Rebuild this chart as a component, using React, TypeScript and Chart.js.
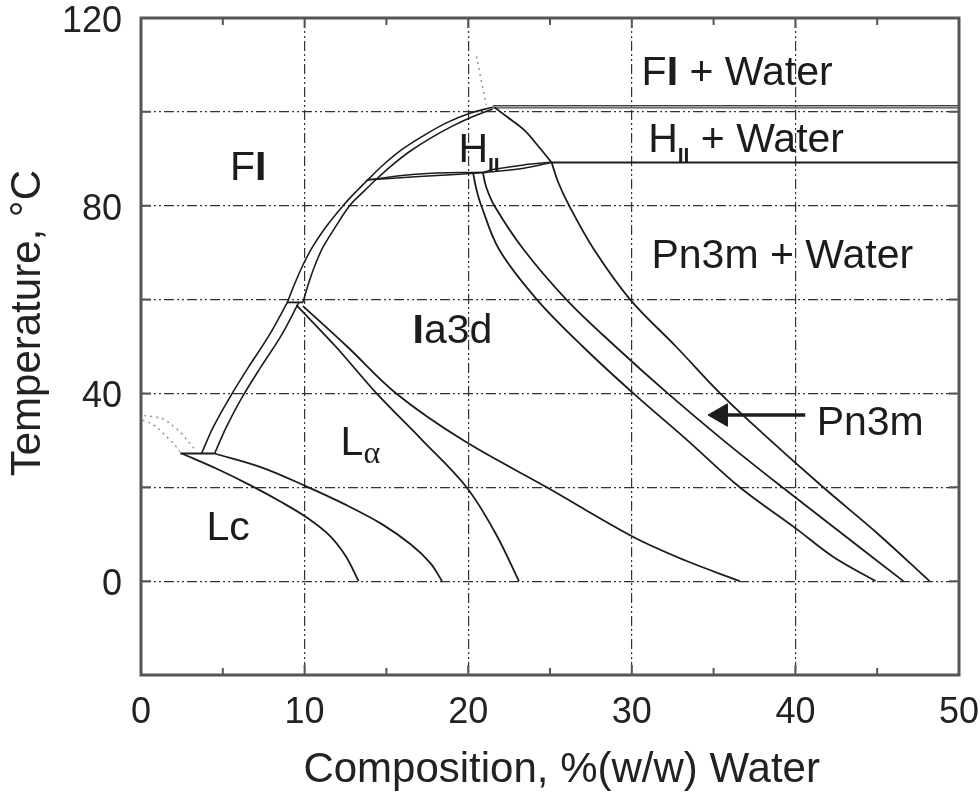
import React, { useEffect, useRef } from 'react';
import { Chart, registerables } from 'chart.js';

Chart.register(...registerables);

type Pt = [number, number];

// Axes
const X_MIN = 0;
const X_MAX = 50;
const X_STEP = 10;
const Y_MIN = -20;
const Y_MAX = 120;
const Y_STEP = 20;
const Y_LABELED = [0, 40, 80, 120];

// Phase boundaries: [composition % (w/w) water, temperature °C]
const FI_OUTER: Pt[] = [[8.95, 59.4], [9.35, 63], [9.85, 67], [10.45, 71], [11.2, 75], [12.35, 80], [13.2, 83.2], [14.0, 86.0], [14.9, 89.0], [16.0, 92.1], [17.3, 95.0], [18.7, 97.7], [20.1, 99.7], [21.5, 101.0]];
const FI_INNER: Pt[] = [[9.9, 59.4], [10.2, 63], [10.6, 67], [11.1, 71], [11.8, 75], [12.75, 80], [13.6, 83], [14.4, 85.7], [15.3, 88.5], [16.4, 91.5], [17.6, 94.2], [19.0, 96.9], [20.3, 99.0], [21.5, 100.6]];
const FI_LOW_LEFT: Pt[] = [[3.7, 27.2], [4.4, 32.7], [5.35, 38.7], [6.55, 45.5], [7.8, 52.2], [8.95, 59.4]];
const FI_LOW_RIGHT: Pt[] = [[4.5, 27.2], [5.2, 32.7], [6.1, 38.7], [7.3, 45.5], [8.55, 52.2], [9.65, 59.4]];
const TRIPLE_UPPER: Pt[] = [[8.9, 59.4], [9.9, 59.4]];
const TRIPLE_LOWER: Pt[] = [[2.4, 27.2], [4.5, 27.2]];
const LC_A: Pt[] = [[2.5, 27.2], [4.6, 24], [6.7, 20.4], [8.6, 16.8], [10.2, 13.4], [11.5, 9.8], [12.5, 5.4], [13.3, 0]];
const LC_B: Pt[] = [[4.5, 27.2], [7.4, 24.2], [10.1, 20.2], [12.5, 16.3], [14.7, 12.2], [16.5, 7.8], [17.7, 3.8], [18.4, 0]];
const LA_C: Pt[] = [[9.5, 58.8], [11.9, 50], [14.4, 40], [17.2, 30], [19.9, 20], [21.7, 10], [23.1, 0]];
const LA_D: Pt[] = [[9.9, 58.6], [12.6, 50], [15.6, 40], [19.7, 30], [24.8, 20], [30.1, 9.4], [33.2, 4.5], [36.6, 0]];
const IA_E: Pt[] = [[20.3, 87], [20.5, 83.5], [20.8, 80], [21.9, 70.6], [24.2, 60], [27.0, 50], [30.1, 40], [33.4, 30], [36.6, 20], [40, 11.3], [42.3, 5.2], [44.9, 0]];
const IA_F: Pt[] = [[20.9, 87], [21.1, 84], [21.6, 80], [23.4, 70.6], [26.0, 60], [29.0, 50], [32.2, 40], [35.6, 30], [39.2, 20], [42.9, 10], [46.6, 0]];
const PN_G: Pt[] = [[25.1, 89.2], [25.5, 85], [26.2, 79.8], [27.7, 70.6], [29.9, 60], [32.7, 50], [35.4, 40], [38.0, 31.5], [41.7, 20], [45.0, 10.2], [48.2, 0]];
const LENS1_U: Pt[] = [[13.8, 85.5], [17, 86.75], [20.9, 87.15]];
const LENS1_L: Pt[] = [[13.8, 85.5], [17, 86.2], [20.9, 87.0]];
const LENS2_U: Pt[] = [[20.9, 87.1], [21.5, 87.7], [23.4, 88.7], [25.1, 89.25]];
const LENS2_L: Pt[] = [[20.9, 87.0], [23.4, 88.0], [25.1, 89.2]];
const HII_RIGHT: Pt[] = [[21.6, 101.0], [22.35, 99], [23.4, 96.2], [24.4, 92.2], [25.1, 89.2]];
const FI_WATER_A: Pt[] = [[21.5, 101.3], [50, 101.3]];
const FI_WATER_B: Pt[] = [[21.5, 100.85], [50, 100.85]];
const HII_WATER: Pt[] = [[25.1, 89.2], [50, 89.2]];
const DOT_TOP: Pt[] = [[20.5, 111.8], [21.1, 101.5]];
const DOT_UPPER: Pt[] = [[0.2, 35.3], [1.26, 34.7], [1.77, 33.6], [2.38, 31.8], [2.9, 29.7], [3.4, 27.6]];
const DOT_LOWER: Pt[] = [[0.1, 34.3], [0.55, 33.7], [0.96, 32.8], [1.47, 31.1], [1.97, 29.4], [2.38, 27.6]];
const ARROW_SHAFT: Pt[] = [[40.6, 35.4], [35.6, 35.4]];
const ARROW_HEAD: Pt[] = [[35.45, 35.4]];

// Region labels: anchor [x, y] (left, baseline) and text parts
const LABELS: { at: Pt; parts: [string, string][] }[] = [
  { at: [5.44, 85.5], parts: [['F', 'n'], ['I', 'b']] },
  { at: [30.6, 105.8], parts: [['F', 'n'], ['I', 'b'], [' + Water', 'n']] },
  { at: [31.0, 91.5], parts: [['H', 'n'], ['II', 's'], [' + Water', 'n']] },
  { at: [19.4, 89.3], parts: [['H', 'n'], ['II', 's']] },
  { at: [31.2, 66.7], parts: [['Pn3m + Water', 'n']] },
  { at: [16.6, 50.7], parts: [['I', 'b'], ['a3d', 'n']] },
  { at: [12.2, 26.9], parts: [['L', 'n'], ['α', 'g']] },
  { at: [4.0, 8.7], parts: [['Lc', 'n']] },
  { at: [41.3, 31.1], parts: [['Pn3m', 'n']] },
];

const X_TITLE = 'Composition, %(w/w) Water';
const Y_TITLE = 'Temperature, °C';

const FONT = "'Liberation Sans', Arial, Helvetica, sans-serif";
const INK = '#1c1c1c';

const decorPlugin = {
  id: 'decor',
  afterDatasetsDraw(chart: any) {
    const { ctx } = chart;
    const xs = chart.scales.x;
    const ys = chart.scales.y;
    ctx.save();
    ctx.fillStyle = INK;
    ctx.textAlign = 'left';
    ctx.textBaseline = 'alphabetic';
    for (const lab of LABELS) {
      let px = xs.getPixelForValue(lab.at[0]);
      const py = ys.getPixelForValue(lab.at[1]);
      for (const [text, kind] of lab.parts) {
        let font = `41px ${FONT}`;
        let dy = 0;
        if (kind === 'b') font = `bold 41px ${FONT}`;
        else if (kind === 's') {
          font = `bold 21px ${FONT}`;
          dy = 10;
        } else if (kind === 'g') {
          font = `32px 'Liberation Serif', 'DejaVu Serif', serif`;
          dy = 8;
        }
        ctx.font = font;
        ctx.fillText(text, px, py + dy);
        px += ctx.measureText(text).width;
      }
    }
    ctx.restore();
  },
  afterDraw(chart: any) {
    const { ctx, chartArea: a } = chart;
    const xs = chart.scales.x;
    const ys = chart.scales.y;
    ctx.save();
    ctx.strokeStyle = '#555';
    ctx.lineWidth = 2;
    ctx.beginPath();
    for (let v = X_MIN; v <= X_MAX; v += X_STEP / 2) {
      const p = xs.getPixelForValue(v);
      const len = v % X_STEP === 0 ? 10 : 7;
      ctx.moveTo(p, a.bottom);
      ctx.lineTo(p, a.bottom - len);
      ctx.moveTo(p, a.top);
      ctx.lineTo(p, a.top + len);
    }
    for (let v = Y_MIN; v <= Y_MAX; v += Y_STEP) {
      const p = ys.getPixelForValue(v);
      ctx.moveTo(a.left, p);
      ctx.lineTo(a.left + 10, p);
      ctx.moveTo(a.right, p);
      ctx.lineTo(a.right - 10, p);
    }
    ctx.stroke();
    ctx.lineWidth = 3;
    ctx.strokeStyle = '#555';
    ctx.strokeRect(a.left, a.top, a.right - a.left, a.bottom - a.top);
    ctx.restore();
  },
};

const seg = (pts: Pt[], o: any = {}) => ({
  data: pts.map(([x, y]) => ({ x, y })),
  showLine: true,
  borderColor: INK,
  backgroundColor: INK,
  borderWidth: 1.8,
  pointRadius: 0,
  pointHoverRadius: 0,
  tension: 0.35,
  fill: false,
  ...o,
});

export default function App() {
  const ref = useRef<HTMLCanvasElement | null>(null);

  useEffect(() => {
    document.body.style.margin = '0';
    const canvas = ref.current;
    if (!canvas) return;
    const dotted = { borderColor: '#9a9a9a', borderDash: [2, 4], borderWidth: 1.6, tension: 0.3 };
    const straight = { tension: 0 };
    const chart = new Chart(canvas, {
      type: 'scatter',
      data: {
        datasets: [
          seg(FI_OUTER, { borderWidth: 1.6 }),
          seg(FI_INNER, { borderWidth: 1.6 }),
          seg(FI_LOW_LEFT, { borderWidth: 1.6 }),
          seg(FI_LOW_RIGHT, { borderWidth: 1.6 }),
          seg(TRIPLE_UPPER, straight),
          seg(TRIPLE_LOWER, straight),
          seg(LC_A),
          seg(LC_B),
          seg(LA_C),
          seg(LA_D),
          seg(IA_E),
          seg(IA_F),
          seg(PN_G),
          seg(LENS1_U, { borderWidth: 1.5 }),
          seg(LENS1_L, { borderWidth: 1.5 }),
          seg(LENS2_U, { borderWidth: 1.5 }),
          seg(LENS2_L, { borderWidth: 1.5 }),
          seg(HII_RIGHT),
          seg(FI_WATER_A, { ...straight, borderWidth: 1.4, borderColor: '#444' }),
          seg(FI_WATER_B, { ...straight, borderWidth: 1.4, borderColor: '#444' }),
          seg(HII_WATER, { ...straight, borderWidth: 2 }),
          seg(DOT_TOP, dotted),
          seg(DOT_UPPER, dotted),
          seg(DOT_LOWER, dotted),
          seg(ARROW_SHAFT, { ...straight, borderWidth: 3.5 }),
          seg(ARROW_HEAD, {
            showLine: false,
            pointRadius: 13,
            pointStyle: 'triangle',
            pointRotation: -90,
            rotation: -90,
            borderWidth: 1,
          }),
        ] as any,
      },
      options: {
        responsive: false,
        animation: false,
        events: [],
        layout: { padding: { left: 0, right: 21, top: 18, bottom: 0 } },
        plugins: {
          legend: { display: false },
          tooltip: { enabled: false },
        },
        scales: {
          x: {
            type: 'linear',
            min: X_MIN,
            max: X_MAX,
            border: { display: false, dash: [10, 3, 2, 3, 2, 3] },
            grid: { color: '#333', lineWidth: 1.2, drawTicks: false },
            ticks: {
              stepSize: X_STEP,
              padding: 16,
              color: '#222',
              font: { family: FONT, size: 36 },
              maxRotation: 0,
              autoSkip: false,
            },
            title: {
              display: true,
              text: '  ' + X_TITLE,
              color: '#222',
              font: { family: FONT, size: 42 },
              padding: { top: 0, bottom: 0 },
            },
            afterFit: (s: any) => {
              s.height = 121;
              s.paddingLeft = 0;
              s.paddingRight = 0;
            },
          },
          y: {
            type: 'linear',
            min: Y_MIN,
            max: Y_MAX,
            border: { display: false, dash: [10, 3, 2, 3, 2, 3] },
            grid: { color: '#333', lineWidth: 1.2, drawTicks: false },
            ticks: {
              stepSize: Y_STEP,
              padding: 19,
              labelOffset: 4,
              color: '#222',
              autoSkip: false,
              font: { family: FONT, size: 36 },
              callback: (v: any) => (Y_LABELED.includes(Number(v)) ? String(v) : ''),
            },
            title: {
              display: true,
              text: '    ' + Y_TITLE,
              color: '#222',
              font: { family: FONT, size: 42 },
              padding: { top: 3, bottom: 0 },
            },
            afterFit: (s: any) => {
              s.width = 141;
              s.paddingTop = 0;
              s.paddingBottom = 0;
            },
          },
        },
      } as any,
      plugins: [decorPlugin],
    });
    return () => chart.destroy();
  }, []);

  return (
    <div style={{ position: 'fixed', left: 0, top: 0, width: 980, height: 796, background: '#fff' }}>
      <canvas ref={ref} width={980} height={796} style={{ display: 'block' }} />
    </div>
  );
}
